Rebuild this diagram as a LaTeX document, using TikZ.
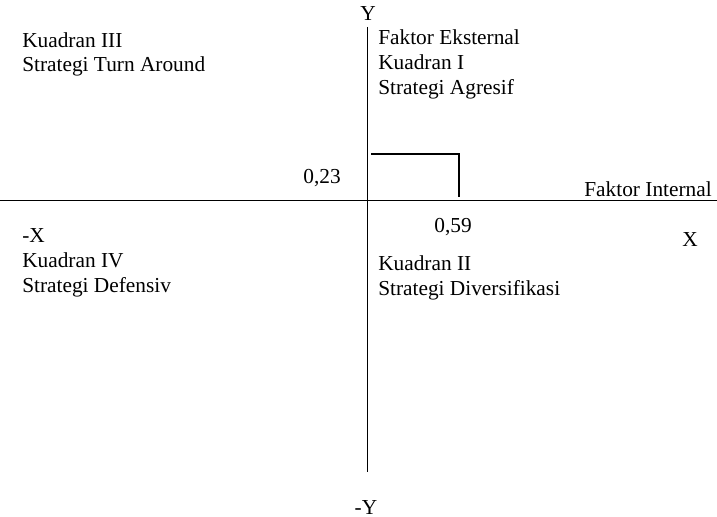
\documentclass[tikz,border=0pt]{standalone}
\usepackage{fontspec}
\setmainfont{Liberation Serif}
\usetikzlibrary{positioning}
\tikzset{
  axisline/.style={draw=black, line width=0.6pt},
  posmark/.style={draw=black, line width=1.8pt},
  lbl/.style={font=\fontsize{16}{18.6}\selectfont, inner sep=0pt, align=left, anchor=base west},
  albl/.style={font=\fontsize{16}{18.6}\selectfont, inner sep=0pt, anchor=base},
}

\begin{document}
\begin{tikzpicture}[x=0.75pt,y=-0.75pt]
\useasboundingbox (0,0) rectangle (717,517);

% ===================== AXES =====================
\coordinate (ytop) at (367,27);
\coordinate (ybot) at (367,472);
\coordinate (xleft) at (0,200);
\coordinate (xright) at (717,200);
\draw[axisline] (ytop) -- (ybot);
\draw[axisline] (xleft) -- (xright);

\node[albl] (ylab) at (368,21) {Y};
\node[albl] (mylab) at (366,514) {-Y};
\node[albl] (xlab) at (690,246) {X};

% ===================== POSITION MARK =====================
\coordinate (p0) at (371,154);
\coordinate (p1) at (459,154);
\coordinate (p2) at (459,197);
\draw[posmark] (p0) -- (p1) -- (p2);
\node[albl] (vy) at (322,183) {0,23};
\node[albl] (vx) at (453,232) {0,59};
\node[albl, anchor=base east] (fint) at (712,196) {Faktor Internal};

% ===================== QUADRANTS =====================
\node[lbl] (q3) at (22,72) {Kuadran III\\Strategi Turn Around};
\node[lbl] (q1) at (378,94) {Faktor Eksternal\\Kuadran I\\Strategi Agresif};
\node[lbl] (q4) at (22,292) {-X\\Kuadran IV\\Strategi Defensiv};
\node[lbl] (q2) at (378,295) {Kuadran II\\Strategi Diversifikasi};

\end{tikzpicture}
\end{document}
